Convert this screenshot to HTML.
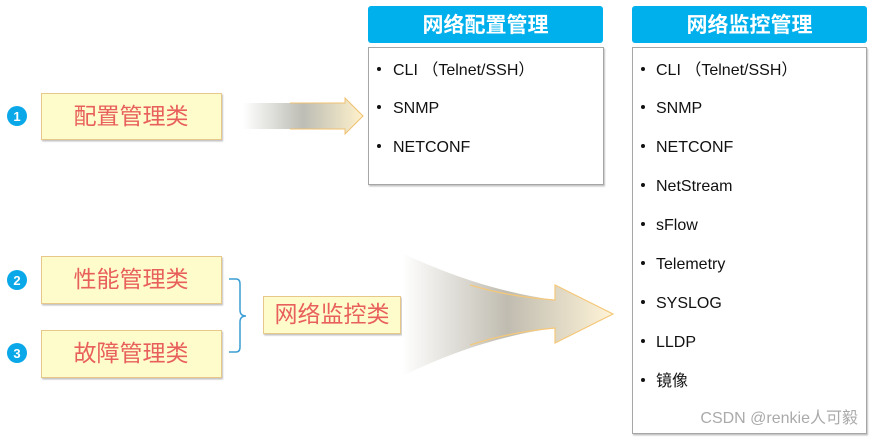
<!DOCTYPE html>
<html><head><meta charset="utf-8"><style>
html,body{margin:0;padding:0;background:#fff;}
svg{display:block;font-family:"Liberation Sans","Noto Sans CJK SC",sans-serif;}
</style></head><body>
<svg width="871" height="438" viewBox="0 0 871 438" xmlns="http://www.w3.org/2000/svg">
<defs>
<linearGradient id="g1" x1="0" x2="1" y1="0" y2="0">
<stop offset="0" stop-color="#ffffff"/><stop offset="0.5" stop-color="#bdbdb5"/><stop offset="1" stop-color="#fff2cc"/>
</linearGradient>
<linearGradient id="g2" x1="0" x2="1" y1="0" y2="0">
<stop offset="0" stop-color="#ffffff"/><stop offset="0.5" stop-color="#c0bcb0"/><stop offset="1" stop-color="#fff4d8"/>
</linearGradient>
<filter id="sh" x="-5%" y="-5%" width="110%" height="115%"><feDropShadow dx="1" dy="1.5" stdDeviation="0.8" flood-color="#999" flood-opacity="0.6"/></filter>
</defs>

<rect x="368" y="6" width="235" height="37" rx="3" fill="#00b0ec"/>
<text x="485.5" y="32" font-size="21" font-weight="bold" fill="#fff" text-anchor="middle">网络配置管理</text>
<rect x="632" y="6" width="235" height="37" rx="3" fill="#00b0ec"/>
<text x="749.5" y="32" font-size="21" font-weight="bold" fill="#fff" text-anchor="middle">网络监控管理</text>

<rect x="368.5" y="47.5" width="235" height="137" fill="#fff" stroke="#a6a6a6" filter="url(#sh)"/>
<rect x="632.5" y="47.5" width="234" height="386" fill="#fff" stroke="#a6a6a6" filter="url(#sh)"/>

<g font-size="16" fill="#111">
<circle cx="379" cy="69" r="2" fill="#111"/><text x="393" y="75">CLI （Telnet/SSH）</text>
<circle cx="379" cy="107" r="2" fill="#111"/><text x="393" y="113">SNMP</text>
<circle cx="379" cy="146" r="2" fill="#111"/><text x="393" y="152">NETCONF</text>

<circle cx="643" cy="69" r="2" fill="#111"/><text x="656" y="75">CLI （Telnet/SSH）</text>
<circle cx="643" cy="107" r="2" fill="#111"/><text x="656" y="113">SNMP</text>
<circle cx="643" cy="146" r="2" fill="#111"/><text x="656" y="152">NETCONF</text>
<circle cx="643" cy="185" r="2" fill="#111"/><text x="656" y="191">NetStream</text>
<circle cx="643" cy="224" r="2" fill="#111"/><text x="656" y="230">sFlow</text>
<circle cx="643" cy="263" r="2" fill="#111"/><text x="656" y="269">Telemetry</text>
<circle cx="643" cy="302" r="2" fill="#111"/><text x="656" y="308">SYSLOG</text>
<circle cx="643" cy="341" r="2" fill="#111"/><text x="656" y="347">LLDP</text>
<circle cx="643" cy="380" r="2" fill="#111"/><text x="656" y="386">镜像</text>
</g>
<text x="858" y="423" font-size="16" fill="#aaa" text-anchor="end">CSDN @renkie人可毅</text>

<g fill="#fffccc" stroke="#e8c88a" filter="url(#sh)">
<rect x="41.5" y="93.5" width="180" height="46"/>
<rect x="41.5" y="256.5" width="180" height="47"/>
<rect x="41.5" y="330.5" width="180" height="47"/>
<rect x="263.5" y="296.5" width="137" height="37"/>
</g>
<g font-size="23" fill="#e8605a" text-anchor="middle">
<text x="131" y="124">配置管理类</text>
<text x="131" y="287">性能管理类</text>
<text x="131" y="361">故障管理类</text>
<text x="332" y="322">网络监控类</text>
</g>

<g fill="#0aa8e8">
<circle cx="17" cy="116" r="10"/><circle cx="17" cy="280" r="10"/><circle cx="17" cy="353" r="10"/>
</g>
<g font-size="13" font-weight="bold" fill="#fff" text-anchor="middle">
<text x="17" y="121">1</text><text x="17" y="285">2</text><text x="17" y="358">3</text>
</g>

<path d="M229,279 H236 Q240,279 240,284 V310 Q240,316 246,316 Q240,316 240,322 V347 Q240,352 236,352 H229" fill="none" stroke="#3b9ed4" stroke-width="1.5"/>

<path d="M243,103 H345 V98 L363,116 L345,134 V129 H243 Z" fill="url(#g1)"/>
<path d="M290,103 H345 V98 L363,116 L345,134 V129 H290" fill="none" stroke="#f0c070" stroke-width="1"/>

<path d="M402,253 Q480,290 555,300 V285 L613,314 L555,343 V328 Q480,338 402,376 Z" fill="url(#g2)"/>
<path d="M470,285 Q510,297 555,300 V285 L613,314 L555,343 V328 Q510,332 470,345" fill="none" stroke="#f5c87a" stroke-width="1.2"/>
</svg>
</body></html>
